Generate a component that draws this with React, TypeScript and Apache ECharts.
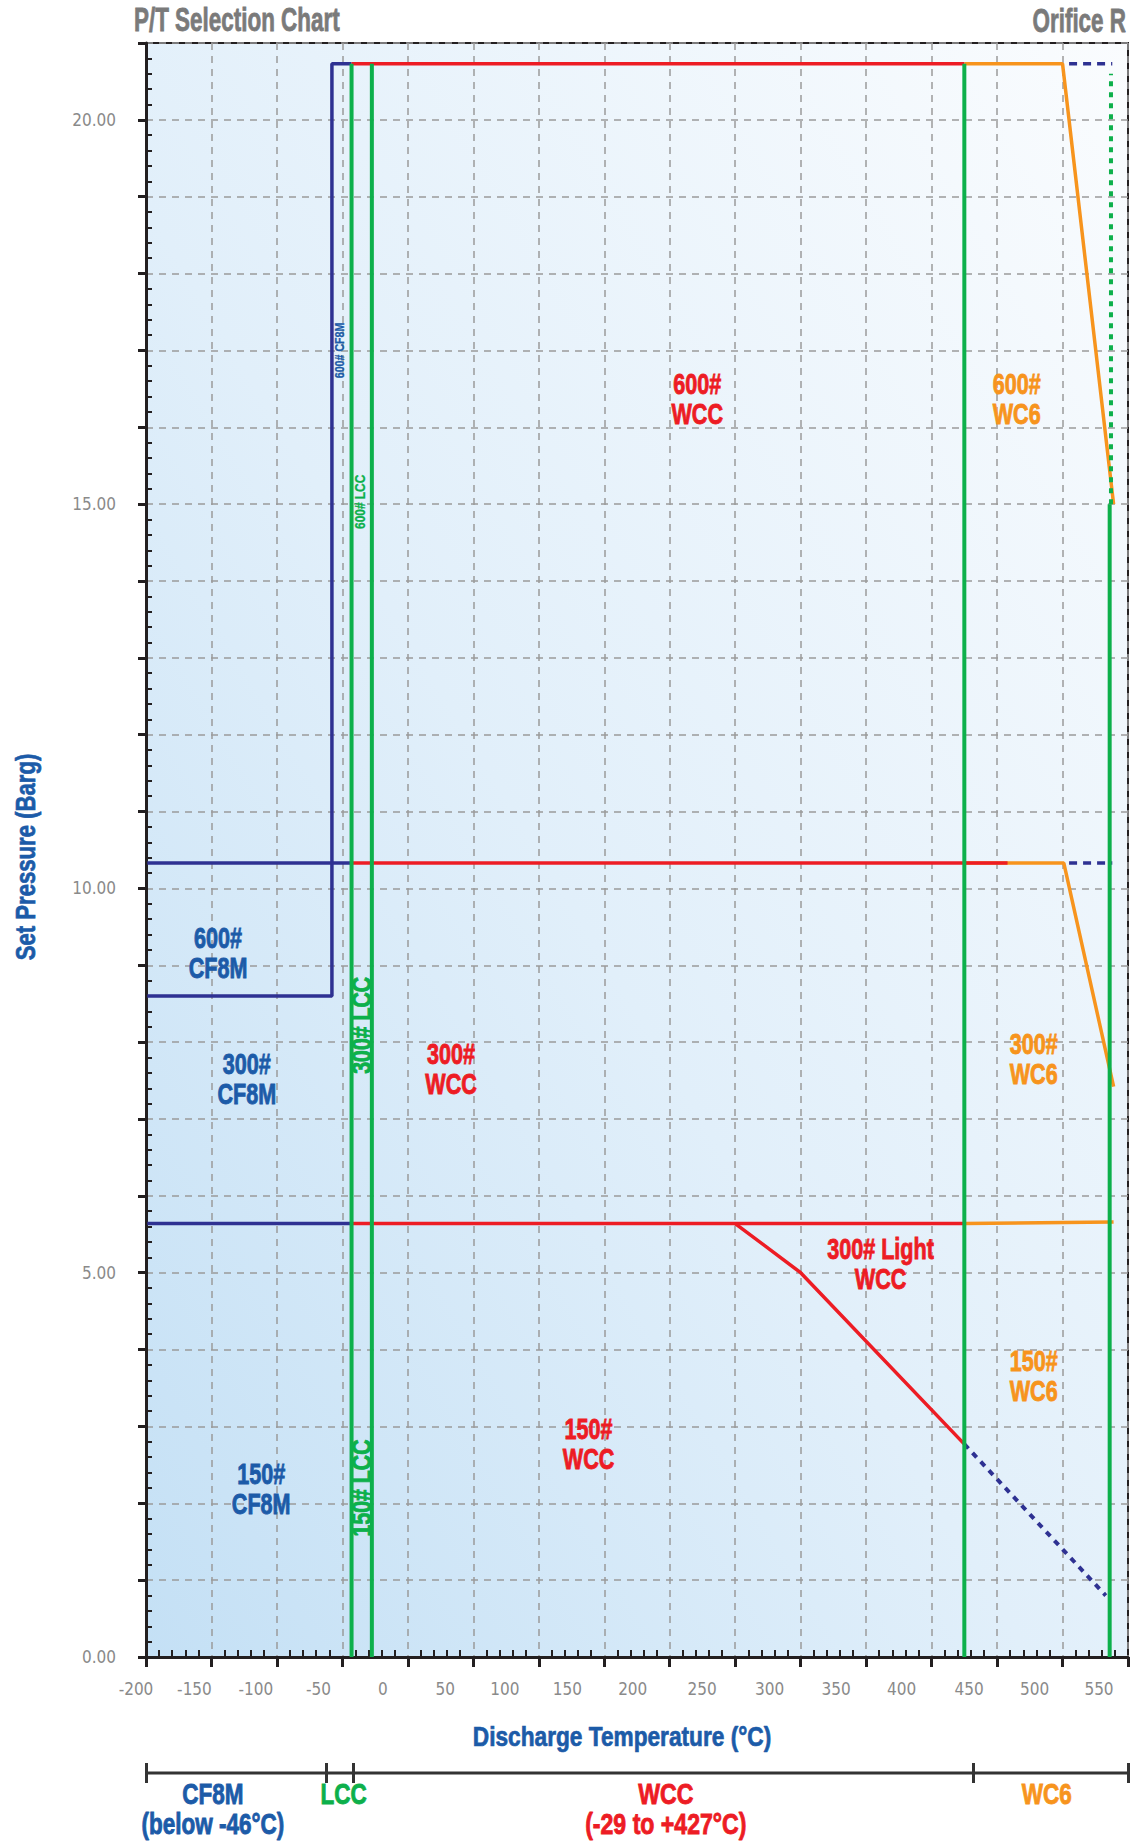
import React, { useEffect, useRef } from 'react';
import * as echarts from 'echarts';

// ---------- colours & fonts ----------
const NAVY = '#2e3192';
const GREEN = '#0db04b';
const RED = '#ed1c24';
const ORANGE = '#f7941d';
const BLUE_TEXT = '#1c5ba8';
const GRAY = '#8a8a8a';
const INK = '#231f20';
const FONT = "'Liberation Sans', Arial, sans-serif";
const AXIS_FONT = "'DejaVu Sans Condensed', 'Liberation Sans', sans-serif";

// ---------- axes ----------
const X_MIN = -200;
const X_MAX = 550;
const X_STEP = 50;
const Y_MIN = 0;
const Y_MAX = 21;
const Y_STEP = 1;
const Y_LABEL_STEP = 5;

// ---------- boundary lines (temperature °C, pressure barg) ----------
const CF8M_600 = [[-199, 8.6], [-58, 8.6], [-58, 20.73], [-43, 20.73]];
const CF8M_300 = [[-199, 10.33], [-43, 10.33]];
const CF8M_150 = [[-199, 5.64], [-43, 5.64]];
const WCC_600 = [[-43, 20.73], [425, 20.73]];
const WCC_300 = [[-43, 10.33], [458, 10.33]];
const WCC_150 = [[-43, 5.64], [425, 5.64]];
const WCC_300_LIGHT = [[250, 5.64], [300, 5.0], [425, 2.77]];
const WC6_600 = [[425, 20.73], [500, 20.73], [539, 15.0]];
const WC6_300 = [[425, 10.33], [501, 10.33], [539, 7.42]];
const WC6_150 = [[425, 5.64], [539, 5.66]];
const EXT_600 = [[505, 20.73], [538, 20.73]];
const EXT_300 = [[505, 10.33], [538, 10.33]];
const EXT_LIGHT = [[425, 2.77], [533, 0.8]];
const LCC_LOW = [[-43, 0], [-43, 20.73]];
const LCC_HIGH = [[-27.5, 0], [-27.5, 20.73]];
const WCC_LIMIT = [[425, 0], [425, 20.73]];
const WC6_LIMIT = [[536, 0], [536, 15]];
const WC6_LIMIT_EXT = [[537, 15], [537, 20.6]];

// ---------- region labels [T, P, text] ----------
const RED_LABELS: [number, number, string][] = [
  [221, 16.37, '600#\nWCC'],
  [33, 7.66, '300#\nWCC'],
  [361, 5.12, '300# Light\nWCC'],
  [138, 2.77, '150#\nWCC'],
];
const ORANGE_LABELS: [number, number, string][] = [
  [465, 16.37, '600#\nWC6'],
  [478, 7.79, '300#\nWC6'],
  [478, 3.66, '150#\nWC6'],
];
const BLUE_LABELS: [number, number, string][] = [
  [-145, 9.17, '600#\nCF8M'],
  [-123, 7.52, '300#\nCF8M'],
  [-112, 2.19, '150#\nCF8M'],
];
const VERT_SMALL_BLUE: [number, number, string][] = [[-52.3, 17.0, '600# CF8M']];
const VERT_SMALL_GREEN: [number, number, string][] = [[-36.2, 15.03, '600# LCC']];
const VERT_LARGE_GREEN: [number, number, string][] = [
  [-35.8, 8.22, '300# LCC'],
  [-35.8, 2.2, '150# LCC'],
];

// ---------- material bar ----------
const BAR_BOUNDS = [-200, -62, -41.5, 432, 550];
const BAR_BLUE: [number, number, string][] = [[-149, -2.1, 'CF8M'], [-149, -5.1, '(below -46°C)']];
const BAR_GREEN: [number, number, string][] = [[-49, -2.1, 'LCC']];
const BAR_RED: [number, number, string][] = [[197, -2.1, 'WCC'], [197, -5.1, '(-29 to +427°C)']];
const BAR_ORANGE: [number, number, string][] = [[488, -2.1, 'WC6']];

// label shift (px) of x tick labels relative to their ticks
const X_LABEL_SHIFT = [-10, -17, -21, -24, -25, -28, -34, -37, -37, -33, -31, -30, -30, -28, -28, -29];

function lineSeries(data: number[][], color: string, width: number, type: any = 'solid') {
  return {
    type: 'line',
    xAxisIndex: 0,
    yAxisIndex: 0,
    data,
    symbol: 'none',
    silent: true,
    lineStyle: { color, width, type, cap: 'butt' },
    z: 3,
  };
}

function textSeries(
  items: [number, number, string][],
  color: string,
  size: number,
  opts: { rotation?: number; scaleX?: number; lineHeight?: number; axis?: number; stroke?: number } = {}
) {
  const axis = opts.axis ?? 0;
  return {
    type: 'custom',
    xAxisIndex: axis,
    yAxisIndex: axis,
    data: items.map((d) => [d[0], d[1]]),
    clip: false,
    silent: true,
    z: 6,
    renderItem: (params: any, api: any) => {
      const pt = api.coord([api.value(0), api.value(1)]);
      const item = items[params.dataIndex];
      return {
        type: 'text',
        x: pt[0],
        y: pt[1],
        rotation: opts.rotation ?? 0,
        scaleX: opts.scaleX ?? 1,
        style: {
          text: item[2],
          fill: color,
          stroke: color,
          lineWidth: opts.stroke ?? 0.9,
          font: `bold ${size}px ${FONT}`,
          align: 'center',
          verticalAlign: 'middle',
          lineHeight: opts.lineHeight ?? size,
        },
      };
    },
  };
}

function buildOption(): any {
  const rich: any = {};
  X_LABEL_SHIFT.forEach((s, i) => {
    rich['s' + i] = {
      padding: [0, -2 * s, 0, 0],
      color: GRAY,
      fontSize: 17,
      fontFamily: AXIS_FONT,
    };
  });

  const gradient = new echarts.graphic.LinearGradient(0, 1, 1, 0, [
    { offset: 0, color: '#c4e0f5' },
    { offset: 0.45, color: '#e1effa' },
    { offset: 1, color: '#fafcfe' },
  ]);

  const split = { show: true, lineStyle: { color: '#9b9b9b', width: 1.5, type: [7, 6] } };

  const headText = (text: string, x: number, y: number, align: string) => ({
    type: 'text',
    x,
    y,
    scaleX: 0.68,
    style: {
      text,
      fill: '#7a7a7a',
      stroke: '#7a7a7a',
      lineWidth: 0.8,
      font: `bold 33px ${FONT}`,
      align,
      verticalAlign: 'middle',
    },
  });

  return {
    animation: false,
    backgroundColor: '#ffffff',
    grid: [
      {
        left: 146,
        right: 4,
        top: 43,
        bottom: 184,
        show: true,
        backgroundColor: gradient,
        borderColor: INK,
        borderWidth: 2,
      },
      { left: 146, right: 4, top: 1763, height: 20, show: false },
    ],
    xAxis: [
      {
        type: 'value',
        gridIndex: 0,
        min: X_MIN,
        max: X_MAX,
        interval: X_STEP,
        position: 'bottom',
        axisLine: { show: true, onZero: false, lineStyle: { color: INK, width: 3 } },
        axisTick: { show: true, length: 10, lineStyle: { color: INK, width: 3 } },
        axisLabel: {
          show: true,
          margin: 23,
          formatter: (v: number, i: number) => `{s${i}|${v}}`,
          rich,
        },
        splitLine: split,
      },
      {
        type: 'value',
        gridIndex: 0,
        min: X_MIN,
        max: X_MAX,
        interval: X_STEP,
        position: 'bottom',
        axisLine: { show: false, onZero: false },
        axisTick: { show: false, inside: true },
        axisLabel: { show: false },
        splitLine: { show: false },
        minorTick: { show: true, splitNumber: 5, length: 7, lineStyle: { color: INK, width: 2 } },
      },
      {
        type: 'value',
        gridIndex: 1,
        min: X_MIN,
        max: X_MAX,
        show: false,
      },
    ],
    yAxis: [
      {
        type: 'value',
        gridIndex: 0,
        min: Y_MIN,
        max: Y_MAX,
        interval: Y_STEP,
        position: 'left',
        axisLine: { show: true, onZero: false, lineStyle: { color: INK, width: 3 } },
        axisTick: { show: true, length: 8, lineStyle: { color: INK, width: 3 } },
        axisLabel: {
          show: true,
          margin: 30,
          color: GRAY,
          fontSize: 17,
          fontFamily: AXIS_FONT,
          formatter: (v: number) => (Math.abs(v % Y_LABEL_STEP) < 1e-9 ? v.toFixed(2) : ''),
        },
        splitLine: split,
      },
      {
        type: 'value',
        gridIndex: 0,
        min: Y_MIN,
        max: Y_MAX,
        interval: Y_STEP,
        position: 'left',
        axisLine: { show: false, onZero: false },
        axisTick: { show: false, inside: true },
        axisLabel: { show: false },
        splitLine: { show: false },
        minorTick: { show: true, splitNumber: 5, length: 6, lineStyle: { color: INK, width: 2 } },
      },
      {
        type: 'value',
        gridIndex: 1,
        min: -1,
        max: 1,
        show: false,
      },
    ],
    graphic: [
      headText('P/T Selection Chart', 134, 19, 'left'),
      headText('Orifice R', 1126, 20, 'right'),
      {
        type: 'text',
        x: 26,
        y: 857,
        rotation: Math.PI / 2,
        scaleX: 0.82,
        style: {
          text: 'Set Pressure (Barg)',
          fill: BLUE_TEXT,
          stroke: BLUE_TEXT,
          lineWidth: 0.7,
          font: `bold 27px ${FONT}`,
          align: 'center',
          verticalAlign: 'middle',
        },
      },
      {
        type: 'text',
        x: 622,
        y: 1736,
        scaleX: 0.84,
        style: {
          text: 'Discharge Temperature (°C)',
          fill: BLUE_TEXT,
          stroke: BLUE_TEXT,
          lineWidth: 0.7,
          font: `bold 27px ${FONT}`,
          align: 'center',
          verticalAlign: 'middle',
        },
      },
    ],
    series: [
      lineSeries(CF8M_600, NAVY, 3.5),
      lineSeries(CF8M_300, NAVY, 3.5),
      lineSeries(CF8M_150, NAVY, 3.5),
      lineSeries(WC6_600, ORANGE, 3.5),
      lineSeries(WC6_300, ORANGE, 3.5),
      lineSeries(WC6_150, ORANGE, 3.5),
      lineSeries(WCC_600, RED, 3.5),
      lineSeries(WCC_300, RED, 3.5),
      lineSeries(WCC_150, RED, 3.5),
      lineSeries(WCC_300_LIGHT, RED, 3.5),
      lineSeries(EXT_600, NAVY, 3.5, [8, 6]),
      lineSeries(EXT_300, NAVY, 3.5, [8, 6]),
      lineSeries(EXT_LIGHT, NAVY, 4, [6, 6]),
      lineSeries(LCC_LOW, GREEN, 4),
      lineSeries(LCC_HIGH, GREEN, 4),
      lineSeries(WCC_LIMIT, GREEN, 4),
      lineSeries(WC6_LIMIT, GREEN, 4),
      lineSeries(WC6_LIMIT_EXT, GREEN, 4, [5, 6]),
      textSeries(RED_LABELS, RED, 30, { scaleX: 0.72, lineHeight: 30 }),
      textSeries(ORANGE_LABELS, ORANGE, 30, { scaleX: 0.72, lineHeight: 30 }),
      textSeries(BLUE_LABELS, BLUE_TEXT, 30, { scaleX: 0.72, lineHeight: 30 }),
      textSeries(VERT_SMALL_BLUE, BLUE_TEXT, 13, { rotation: Math.PI / 2, scaleX: 0.82, stroke: 0.3 }),
      textSeries(VERT_SMALL_GREEN, GREEN, 14, { rotation: Math.PI / 2, scaleX: 0.85, stroke: 0.3 }),
      textSeries(VERT_LARGE_GREEN, GREEN, 28, { rotation: Math.PI / 2, scaleX: 0.76 }),
      {
        type: 'line',
        xAxisIndex: 2,
        yAxisIndex: 2,
        data: [[X_MIN, 0], [X_MAX, 0]],
        symbol: 'none',
        silent: true,
        lineStyle: { color: '#333333', width: 3 },
        markLine: {
          symbol: 'none',
          silent: true,
          label: { show: false },
          lineStyle: { color: '#333333', width: 3, type: 'solid' },
          data: BAR_BOUNDS.map((x) => ({ xAxis: x })),
        },
      },
      textSeries(BAR_BLUE, BLUE_TEXT, 30, { scaleX: 0.75, axis: 2 }),
      textSeries(BAR_GREEN, GREEN, 30, { scaleX: 0.75, axis: 2 }),
      textSeries(BAR_RED, RED, 30, { scaleX: 0.77, axis: 2 }),
      textSeries(BAR_ORANGE, ORANGE, 30, { scaleX: 0.75, axis: 2 }),
    ],
  };
}

export default function App() {
  const ref = useRef<HTMLDivElement>(null);
  useEffect(() => {
    if (!ref.current) return;
    const chart = echarts.init(ref.current, null, { renderer: 'svg' });
    chart.setOption(buildOption());
    return () => chart.dispose();
  }, []);
  return (
    <div
      ref={ref}
      style={{ position: 'absolute', left: 0, top: 0, width: 1132, height: 1841 }}
    />
  );
}
